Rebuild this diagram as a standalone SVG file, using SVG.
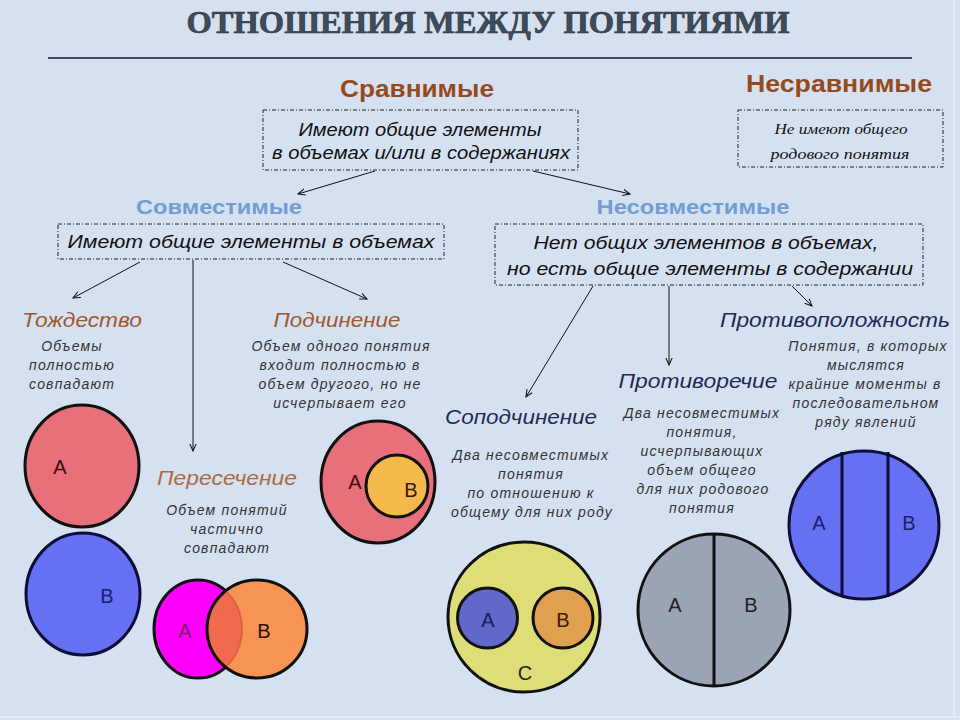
<svg xmlns="http://www.w3.org/2000/svg" width="960" height="720" viewBox="0 0 960 720">
<style>
.bg{fill:#d5e1f0}
.title{font-family:"Liberation Serif",serif;font-weight:bold;font-size:31px;fill:#3e4b5b;stroke:#2a3440;stroke-width:0.6}
.h1{font-family:"Liberation Sans",Arial,sans-serif;font-weight:bold;font-size:23px;fill:#95491f}
.h2{font-family:"Liberation Sans",Arial,sans-serif;font-weight:bold;font-size:20px;fill:#739cd2}
.box{fill:none;stroke:#222;stroke-width:1;stroke-dasharray:4 2 1 2}
.bt{font-family:"Liberation Sans Narrow","Liberation Sans",Arial,sans-serif;font-style:italic;font-size:18px;fill:#111}
.bt2{font-family:"Liberation Sans",Arial,sans-serif;font-style:italic;font-size:17.5px;fill:#111}
.bs{font-family:"Liberation Serif",serif;font-style:italic;font-size:14.5px;fill:#111}
.hb{font-family:"Liberation Sans",Arial,sans-serif;font-style:italic;font-size:20px;fill:#a0582d}
.hn{font-family:"Liberation Sans",Arial,sans-serif;font-style:italic;font-size:20px;fill:#1d2b55}
.d{font-family:"Liberation Sans",Arial,sans-serif;font-style:italic;font-size:14px;letter-spacing:1.2px;fill:#333;text-anchor:middle}
.lab{font-family:"Liberation Sans",Arial,sans-serif;font-size:20px;text-anchor:middle}
.c{stroke:#111;stroke-width:3}
.cn{stroke:#0d0d3a;stroke-width:3}
.ar{fill:none;stroke:#111;stroke-width:1;marker-end:url(#ah)}
</style>
<defs>
<marker id="ah" viewBox="0 0 10 10" refX="9" refY="5" markerWidth="8" markerHeight="8" orient="auto" markerUnits="userSpaceOnUse">
<path d="M0,1 L9,5 L0,9" fill="none" stroke="#111" stroke-width="1.3"/>
</marker>
<clipPath id="clipA"><ellipse cx="198" cy="629" rx="44" ry="49"/></clipPath>
<clipPath id="clipB"><ellipse cx="257" cy="629" rx="48" ry="47"/></clipPath>
</defs>
<rect class="bg" x="0" y="0" width="960" height="720"/>
<line x1="954" y1="0" x2="954" y2="716" stroke="#e4ecf6" stroke-width="2"/>
<line x1="0" y1="717" x2="960" y2="717" stroke="#e4ecf6" stroke-width="2"/>

<g id="title">
<text class="title" x="488" y="33" text-anchor="middle" textLength="603" lengthAdjust="spacingAndGlyphs">ОТНОШЕНИЯ МЕЖДУ ПОНЯТИЯМИ</text>
<line x1="48" y1="58" x2="912" y2="58" stroke="#0e1a30" stroke-width="1.5"/>
</g>

<g id="sravnimye">
<text class="h1" x="417" y="97" text-anchor="middle" textLength="154" lengthAdjust="spacingAndGlyphs">Сравнимые</text>
<rect class="box" x="263" y="110" width="315" height="60"/>
<text class="bt" x="420" y="136" text-anchor="middle" textLength="243" lengthAdjust="spacingAndGlyphs">Имеют общие элементы</text>
<text class="bt" x="421" y="159" text-anchor="middle" textLength="298" lengthAdjust="spacingAndGlyphs">в объемах и/или в содержаниях</text>
</g>

<g id="nesravnimye">
<text class="h1" x="839" y="92" text-anchor="middle" textLength="186" lengthAdjust="spacingAndGlyphs">Несравнимые</text>
<rect class="box" x="738" y="110" width="205" height="57"/>
<text class="bs" x="841" y="134" text-anchor="middle" textLength="133" lengthAdjust="spacingAndGlyphs">Не имеют общего</text>
<text class="bs" x="840" y="159" text-anchor="middle" textLength="139" lengthAdjust="spacingAndGlyphs">родового понятия</text>
</g>

<g id="sovmestimye">
<text class="h2" x="219" y="214" text-anchor="middle" textLength="166" lengthAdjust="spacingAndGlyphs">Совместимые</text>
<rect class="box" x="58" y="224" width="386" height="35"/>
<text class="bt2" x="251" y="248" text-anchor="middle" textLength="367" lengthAdjust="spacingAndGlyphs">Имеют общие элементы в объемах</text>
</g>

<g id="nesovmestimye">
<text class="h2" x="693" y="214" text-anchor="middle" textLength="193" lengthAdjust="spacingAndGlyphs">Несовместимые</text>
<rect class="box" x="495" y="224" width="428" height="61"/>
<text class="bt2" x="706" y="249" text-anchor="middle" textLength="345" lengthAdjust="spacingAndGlyphs">Нет общих элементов в объемах,</text>
<text class="bt2" x="710" y="275" text-anchor="middle" textLength="406" lengthAdjust="spacingAndGlyphs">но есть общие элементы в содержании</text>
</g>

<g id="connectors">
<line class="ar" x1="375" y1="171" x2="298" y2="194"/>
<line class="ar" x1="533" y1="171" x2="630" y2="194"/>
<line class="ar" x1="140" y1="262" x2="73" y2="298"/>
<line class="ar" x1="193" y1="260" x2="193" y2="451"/>
<line class="ar" x1="283" y1="262" x2="367" y2="299"/>
<line class="ar" x1="593" y1="286" x2="526" y2="397"/>
<line class="ar" x1="669" y1="286" x2="669" y2="365"/>
<line class="ar" x1="792" y1="286" x2="812" y2="306"/>
</g>

<g id="tozhdestvo">
<text class="hb" x="82" y="327" text-anchor="middle" textLength="120" lengthAdjust="spacingAndGlyphs">Тождество</text>
<text class="d" x="72" y="351">Объемы</text>
<text class="d" x="72" y="370">полностью</text>
<text class="d" x="72" y="389">совпадают</text>
<ellipse cx="82" cy="466" rx="57" ry="61" fill="#e8707a" class="c"/>
<text class="lab" x="60" y="474" fill="#3a1010">A</text>
<ellipse cx="83" cy="594" rx="57" ry="61" fill="#6670f2" class="cn"/>
<text class="lab" x="107" y="603" fill="#1a2070">B</text>
</g>

<g id="podchinenie">
<text class="hb" x="337" y="327" text-anchor="middle" textLength="127" lengthAdjust="spacingAndGlyphs">Подчинение</text>
<text class="d" x="341" y="351">Объем одного понятия</text>
<text class="d" x="340" y="370">входит полностью в</text>
<text class="d" x="340" y="389">объем другого, но не</text>
<text class="d" x="340" y="408">исчерпывает его</text>
<ellipse cx="378" cy="482" rx="57" ry="61" fill="#e8707a" class="c"/>
<circle cx="397" cy="486" r="31" fill="#f5b84a" class="c"/>
<text class="lab" x="355" y="489" fill="#3a1010">A</text>
<text class="lab" x="411" y="497" fill="#3a1a00">B</text>
</g>

<g id="peresechenie">
<text class="hb" x="227" y="485" text-anchor="middle" textLength="140" lengthAdjust="spacingAndGlyphs" style="fill:#ad6a3e">Пересечение</text>
<text class="d" x="227" y="515">Объем понятий</text>
<text class="d" x="227" y="534">частично</text>
<text class="d" x="227" y="553">совпадают</text>
<ellipse cx="198" cy="629" rx="44" ry="49" fill="#ff00ff" class="c"/>
<ellipse cx="257" cy="629" rx="50" ry="49" fill="#f79454"/>
<ellipse cx="257" cy="629" rx="50" ry="49" fill="#f26a4e" clip-path="url(#clipA)"/>
<ellipse cx="198" cy="629" rx="44" ry="49" fill="none" stroke="#d25a3a" stroke-width="2" clip-path="url(#clipB)" opacity="0.7"/>
<ellipse cx="257" cy="629" rx="50" ry="49" fill="none" class="c"/>
<text class="lab" x="185" y="638" fill="#7a1a7a">A</text>
<text class="lab" x="264" y="638" fill="#2a1000">B</text>
</g>

<g id="sopodchinenie">
<text class="hn" x="521" y="424" text-anchor="middle" textLength="152" lengthAdjust="spacingAndGlyphs">Соподчинение</text>
<text class="d" x="531" y="460">Два несовместимых</text>
<text class="d" x="531" y="479">понятия</text>
<text class="d" x="531" y="498">по отношению к</text>
<text class="d" x="532" y="517">общему для них роду</text>
<ellipse cx="524" cy="617" rx="76" ry="75" fill="#dede78" class="c"/>
<circle cx="487.5" cy="618" r="30" fill="#6068c8" class="c"/>
<circle cx="563" cy="618" r="30" fill="#e0a050" class="c"/>
<text class="lab" x="488" y="627" fill="#1a1a60">A</text>
<text class="lab" x="563" y="627" fill="#3a1a00">B</text>
<text class="lab" x="525" y="680" fill="#222">C</text>
</g>

<g id="protivorechie">
<text class="hn" x="698" y="388" text-anchor="middle" textLength="159" lengthAdjust="spacingAndGlyphs">Противоречие</text>
<text class="d" x="702" y="418">Два несовместимых</text>
<text class="d" x="702" y="437">понятия,</text>
<text class="d" x="702" y="456">исчерпывающих</text>
<text class="d" x="702" y="475">объем общего</text>
<text class="d" x="703" y="494">для них родового</text>
<text class="d" x="702" y="513">понятия</text>
<circle cx="714" cy="610" r="76" fill="#9aa4b4" class="c"/>
<line x1="714" y1="534" x2="714" y2="686" stroke="#111" stroke-width="3"/>
<text class="lab" x="675" y="612" fill="#222">A</text>
<text class="lab" x="751" y="612" fill="#222">B</text>
</g>

<g id="protivopolozhnost">
<text class="hn" x="835" y="327" text-anchor="middle" textLength="230" lengthAdjust="spacingAndGlyphs">Противоположность</text>
<text class="d" x="868" y="351">Понятия, в которых</text>
<text class="d" x="866" y="370">мыслятся</text>
<text class="d" x="865" y="389">крайние моменты в</text>
<text class="d" x="866" y="408">последовательном</text>
<text class="d" x="866" y="427">ряду явлений</text>
<ellipse cx="864" cy="525" rx="75" ry="74" fill="#6670f2" class="cn"/>
<line x1="842" y1="452" x2="842" y2="597" stroke="#0d0d3a" stroke-width="3"/>
<line x1="888" y1="452" x2="888" y2="597" stroke="#0d0d3a" stroke-width="3"/>
<text class="lab" x="819" y="530" fill="#1a2070">A</text>
<text class="lab" x="909" y="530" fill="#1a2070">B</text>
</g>
</svg>
